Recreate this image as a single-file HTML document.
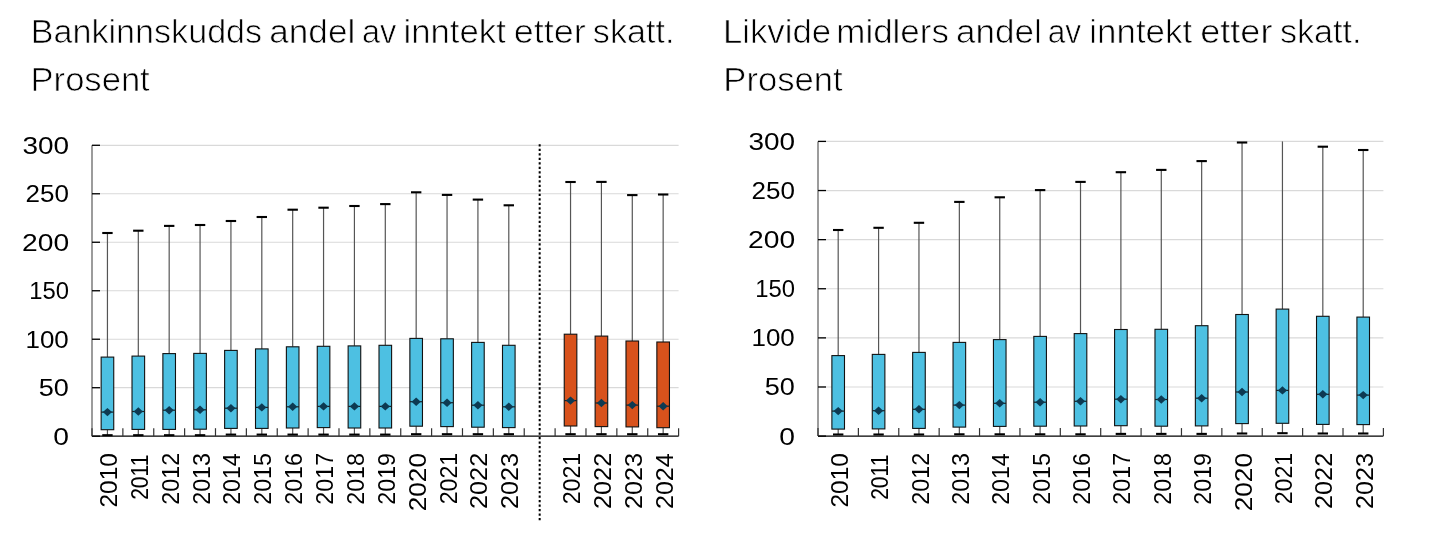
<!DOCTYPE html>
<html><head><meta charset="utf-8">
<style>
html,body{margin:0;padding:0;background:#fff;}
body{width:1445px;height:540px;overflow:hidden;position:relative;}
svg{position:absolute;left:0;top:0;will-change:transform;}
.t{font-family:"Liberation Sans", sans-serif;font-size:24.5px;fill:#000;}
.tt{font-family:"Liberation Sans", sans-serif;font-size:33.0px;fill:#000;stroke:#fff;stroke-width:0.7px;}
</style></head><body>
<svg width="1445" height="540" viewBox="0 0 1445 540">
<text transform="translate(30.7 42.8) scale(1.0345 1)" class="tt">Bankinnskudds</text>
<text transform="translate(269.31 42.8) scale(1.0644 1)" class="tt">andel</text>
<text transform="translate(361.92 42.8) scale(0.9869 1)" class="tt">av</text>
<text transform="translate(403.48 42.8) scale(1.0530 1)" class="tt">inntekt</text>
<text transform="translate(513.77 42.8) scale(1.0892 1)" class="tt">etter</text>
<text transform="translate(592.85 42.8) scale(1.0343 1)" class="tt">skatt.</text>
<text transform="translate(722.95 42.8) scale(1.0523 1)" class="tt">Likvide</text>
<text transform="translate(836.28 42.8) scale(1.0596 1)" class="tt">midlers</text>
<text transform="translate(955.91 42.8) scale(1.0631 1)" class="tt">andel</text>
<text transform="translate(1047.75 42.8) scale(0.9599 1)" class="tt">av</text>
<text transform="translate(1089.37 42.8) scale(1.0572 1)" class="tt">inntekt</text>
<text transform="translate(1200.27 42.8) scale(1.0923 1)" class="tt">etter</text>
<text transform="translate(1279.95 42.8) scale(1.0357 1)" class="tt">skatt.</text>
<text transform="translate(30.56 90.8) scale(1.0480 1)" class="tt">Prosent</text>
<text transform="translate(723.36 90.8) scale(1.0480 1)" class="tt">Prosent</text>
<line x1="92" y1="387.71" x2="678.6" y2="387.71" stroke="#d9d9d9" stroke-width="1.2"/>
<line x1="92" y1="339.23" x2="678.6" y2="339.23" stroke="#d9d9d9" stroke-width="1.2"/>
<line x1="92" y1="290.75" x2="678.6" y2="290.75" stroke="#d9d9d9" stroke-width="1.2"/>
<line x1="92" y1="242.26" x2="678.6" y2="242.26" stroke="#d9d9d9" stroke-width="1.2"/>
<line x1="92" y1="193.77" x2="678.6" y2="193.77" stroke="#d9d9d9" stroke-width="1.2"/>
<line x1="92" y1="145.29" x2="678.6" y2="145.29" stroke="#d9d9d9" stroke-width="1.2"/>
<line x1="107.44" y1="233" x2="107.44" y2="357.1" stroke="#555" stroke-width="1.2"/>
<line x1="107.44" y1="429.7" x2="107.44" y2="435.2" stroke="#555" stroke-width="1.2"/>
<line x1="102.24" y1="233" x2="112.64" y2="233" stroke="#000" stroke-width="2.1"/>
<line x1="102.24" y1="435.2" x2="112.64" y2="435.2" stroke="#000" stroke-width="2.1"/>
<rect x="101.14" y="357.1" width="12.6" height="72.6" fill="#4dc0e2" stroke="#111" stroke-width="1.1"/>
<line x1="101.14" y1="412.1" x2="113.74" y2="412.1" stroke="#1b2226" stroke-width="1.2"/>
<path d="M107.44 407.9 L112.04 412.1 L107.44 416.3 L102.84 412.1 Z" fill="#0d3a52"/>
<line x1="138.31" y1="230.7" x2="138.31" y2="356.1" stroke="#555" stroke-width="1.2"/>
<line x1="138.31" y1="429.4" x2="138.31" y2="435.2" stroke="#555" stroke-width="1.2"/>
<line x1="133.11" y1="230.7" x2="143.51" y2="230.7" stroke="#000" stroke-width="2.1"/>
<line x1="133.11" y1="435.2" x2="143.51" y2="435.2" stroke="#000" stroke-width="2.1"/>
<rect x="132.01" y="356.1" width="12.6" height="73.3" fill="#4dc0e2" stroke="#111" stroke-width="1.1"/>
<line x1="132.01" y1="411.5" x2="144.61" y2="411.5" stroke="#1b2226" stroke-width="1.2"/>
<path d="M138.31 407.3 L142.91 411.5 L138.31 415.7 L133.71 411.5 Z" fill="#0d3a52"/>
<line x1="169.18" y1="225.9" x2="169.18" y2="353.6" stroke="#555" stroke-width="1.2"/>
<line x1="169.18" y1="429.4" x2="169.18" y2="435.2" stroke="#555" stroke-width="1.2"/>
<line x1="163.98" y1="225.9" x2="174.38" y2="225.9" stroke="#000" stroke-width="2.1"/>
<line x1="163.98" y1="435.2" x2="174.38" y2="435.2" stroke="#000" stroke-width="2.1"/>
<rect x="162.88" y="353.6" width="12.6" height="75.8" fill="#4dc0e2" stroke="#111" stroke-width="1.1"/>
<line x1="162.88" y1="410.2" x2="175.48" y2="410.2" stroke="#1b2226" stroke-width="1.2"/>
<path d="M169.18 406 L173.78 410.2 L169.18 414.4 L164.58 410.2 Z" fill="#0d3a52"/>
<line x1="200.06" y1="225" x2="200.06" y2="353.4" stroke="#555" stroke-width="1.2"/>
<line x1="200.06" y1="429.2" x2="200.06" y2="435.2" stroke="#555" stroke-width="1.2"/>
<line x1="194.86" y1="225" x2="205.26" y2="225" stroke="#000" stroke-width="2.1"/>
<line x1="194.86" y1="435.2" x2="205.26" y2="435.2" stroke="#000" stroke-width="2.1"/>
<rect x="193.76" y="353.4" width="12.6" height="75.8" fill="#4dc0e2" stroke="#111" stroke-width="1.1"/>
<line x1="193.76" y1="409.8" x2="206.36" y2="409.8" stroke="#1b2226" stroke-width="1.2"/>
<path d="M200.06 405.6 L204.66 409.8 L200.06 414 L195.46 409.8 Z" fill="#0d3a52"/>
<line x1="230.93" y1="221" x2="230.93" y2="350.4" stroke="#555" stroke-width="1.2"/>
<line x1="230.93" y1="428.4" x2="230.93" y2="434.6" stroke="#555" stroke-width="1.2"/>
<line x1="225.73" y1="221" x2="236.13" y2="221" stroke="#000" stroke-width="2.1"/>
<line x1="225.73" y1="434.6" x2="236.13" y2="434.6" stroke="#000" stroke-width="2.1"/>
<rect x="224.63" y="350.4" width="12.6" height="78" fill="#4dc0e2" stroke="#111" stroke-width="1.1"/>
<line x1="224.63" y1="408.2" x2="237.23" y2="408.2" stroke="#1b2226" stroke-width="1.2"/>
<path d="M230.93 404 L235.53 408.2 L230.93 412.4 L226.33 408.2 Z" fill="#0d3a52"/>
<line x1="261.81" y1="217" x2="261.81" y2="348.9" stroke="#555" stroke-width="1.2"/>
<line x1="261.81" y1="428.4" x2="261.81" y2="434.6" stroke="#555" stroke-width="1.2"/>
<line x1="256.61" y1="217" x2="267.01" y2="217" stroke="#000" stroke-width="2.1"/>
<line x1="256.61" y1="434.6" x2="267.01" y2="434.6" stroke="#000" stroke-width="2.1"/>
<rect x="255.51" y="348.9" width="12.6" height="79.5" fill="#4dc0e2" stroke="#111" stroke-width="1.1"/>
<line x1="255.51" y1="407.4" x2="268.11" y2="407.4" stroke="#1b2226" stroke-width="1.2"/>
<path d="M261.81 403.2 L266.41 407.4 L261.81 411.6 L257.21 407.4 Z" fill="#0d3a52"/>
<line x1="292.68" y1="209.7" x2="292.68" y2="346.8" stroke="#555" stroke-width="1.2"/>
<line x1="292.68" y1="428" x2="292.68" y2="434.6" stroke="#555" stroke-width="1.2"/>
<line x1="287.48" y1="209.7" x2="297.88" y2="209.7" stroke="#000" stroke-width="2.1"/>
<line x1="287.48" y1="434.6" x2="297.88" y2="434.6" stroke="#000" stroke-width="2.1"/>
<rect x="286.38" y="346.8" width="12.6" height="81.2" fill="#4dc0e2" stroke="#111" stroke-width="1.1"/>
<line x1="286.38" y1="406.8" x2="298.98" y2="406.8" stroke="#1b2226" stroke-width="1.2"/>
<path d="M292.68 402.6 L297.28 406.8 L292.68 411 L288.08 406.8 Z" fill="#0d3a52"/>
<line x1="323.55" y1="207.7" x2="323.55" y2="346.3" stroke="#555" stroke-width="1.2"/>
<line x1="323.55" y1="427.6" x2="323.55" y2="434.6" stroke="#555" stroke-width="1.2"/>
<line x1="318.35" y1="207.7" x2="328.75" y2="207.7" stroke="#000" stroke-width="2.1"/>
<line x1="318.35" y1="434.6" x2="328.75" y2="434.6" stroke="#000" stroke-width="2.1"/>
<rect x="317.25" y="346.3" width="12.6" height="81.3" fill="#4dc0e2" stroke="#111" stroke-width="1.1"/>
<line x1="317.25" y1="406.4" x2="329.85" y2="406.4" stroke="#1b2226" stroke-width="1.2"/>
<path d="M323.55 402.2 L328.15 406.4 L323.55 410.6 L318.95 406.4 Z" fill="#0d3a52"/>
<line x1="354.43" y1="206" x2="354.43" y2="345.9" stroke="#555" stroke-width="1.2"/>
<line x1="354.43" y1="428" x2="354.43" y2="434.6" stroke="#555" stroke-width="1.2"/>
<line x1="349.23" y1="206" x2="359.63" y2="206" stroke="#000" stroke-width="2.1"/>
<line x1="349.23" y1="434.6" x2="359.63" y2="434.6" stroke="#000" stroke-width="2.1"/>
<rect x="348.13" y="345.9" width="12.6" height="82.1" fill="#4dc0e2" stroke="#111" stroke-width="1.1"/>
<line x1="348.13" y1="406.4" x2="360.73" y2="406.4" stroke="#1b2226" stroke-width="1.2"/>
<path d="M354.43 402.2 L359.03 406.4 L354.43 410.6 L349.83 406.4 Z" fill="#0d3a52"/>
<line x1="385.3" y1="204.1" x2="385.3" y2="345.3" stroke="#555" stroke-width="1.2"/>
<line x1="385.3" y1="428" x2="385.3" y2="434.6" stroke="#555" stroke-width="1.2"/>
<line x1="380.1" y1="204.1" x2="390.5" y2="204.1" stroke="#000" stroke-width="2.1"/>
<line x1="380.1" y1="434.6" x2="390.5" y2="434.6" stroke="#000" stroke-width="2.1"/>
<rect x="379" y="345.3" width="12.6" height="82.7" fill="#4dc0e2" stroke="#111" stroke-width="1.1"/>
<line x1="379" y1="406.4" x2="391.6" y2="406.4" stroke="#1b2226" stroke-width="1.2"/>
<path d="M385.3 402.2 L389.9 406.4 L385.3 410.6 L380.7 406.4 Z" fill="#0d3a52"/>
<line x1="416.17" y1="192.3" x2="416.17" y2="338.4" stroke="#555" stroke-width="1.2"/>
<line x1="416.17" y1="426.2" x2="416.17" y2="434.2" stroke="#555" stroke-width="1.2"/>
<line x1="410.97" y1="192.3" x2="421.37" y2="192.3" stroke="#000" stroke-width="2.1"/>
<line x1="410.97" y1="434.2" x2="421.37" y2="434.2" stroke="#000" stroke-width="2.1"/>
<rect x="409.87" y="338.4" width="12.6" height="87.8" fill="#4dc0e2" stroke="#111" stroke-width="1.1"/>
<line x1="409.87" y1="401.7" x2="422.47" y2="401.7" stroke="#1b2226" stroke-width="1.2"/>
<path d="M416.17 397.5 L420.77 401.7 L416.17 405.9 L411.57 401.7 Z" fill="#0d3a52"/>
<line x1="447.05" y1="194.9" x2="447.05" y2="338.8" stroke="#555" stroke-width="1.2"/>
<line x1="447.05" y1="426.6" x2="447.05" y2="434.2" stroke="#555" stroke-width="1.2"/>
<line x1="441.85" y1="194.9" x2="452.25" y2="194.9" stroke="#000" stroke-width="2.1"/>
<line x1="441.85" y1="434.2" x2="452.25" y2="434.2" stroke="#000" stroke-width="2.1"/>
<rect x="440.75" y="338.8" width="12.6" height="87.8" fill="#4dc0e2" stroke="#111" stroke-width="1.1"/>
<line x1="440.75" y1="402.7" x2="453.35" y2="402.7" stroke="#1b2226" stroke-width="1.2"/>
<path d="M447.05 398.5 L451.65 402.7 L447.05 406.9 L442.45 402.7 Z" fill="#0d3a52"/>
<line x1="477.92" y1="199.6" x2="477.92" y2="342.4" stroke="#555" stroke-width="1.2"/>
<line x1="477.92" y1="427.2" x2="477.92" y2="434.2" stroke="#555" stroke-width="1.2"/>
<line x1="472.72" y1="199.6" x2="483.12" y2="199.6" stroke="#000" stroke-width="2.1"/>
<line x1="472.72" y1="434.2" x2="483.12" y2="434.2" stroke="#000" stroke-width="2.1"/>
<rect x="471.62" y="342.4" width="12.6" height="84.8" fill="#4dc0e2" stroke="#111" stroke-width="1.1"/>
<line x1="471.62" y1="405.2" x2="484.22" y2="405.2" stroke="#1b2226" stroke-width="1.2"/>
<path d="M477.92 401 L482.52 405.2 L477.92 409.4 L473.32 405.2 Z" fill="#0d3a52"/>
<line x1="508.79" y1="205.3" x2="508.79" y2="345.3" stroke="#555" stroke-width="1.2"/>
<line x1="508.79" y1="427.6" x2="508.79" y2="434.2" stroke="#555" stroke-width="1.2"/>
<line x1="503.59" y1="205.3" x2="513.99" y2="205.3" stroke="#000" stroke-width="2.1"/>
<line x1="503.59" y1="434.2" x2="513.99" y2="434.2" stroke="#000" stroke-width="2.1"/>
<rect x="502.49" y="345.3" width="12.6" height="82.3" fill="#4dc0e2" stroke="#111" stroke-width="1.1"/>
<line x1="502.49" y1="406.8" x2="515.09" y2="406.8" stroke="#1b2226" stroke-width="1.2"/>
<path d="M508.79 402.6 L513.39 406.8 L508.79 411 L504.19 406.8 Z" fill="#0d3a52"/>
<line x1="570.54" y1="182" x2="570.54" y2="334.2" stroke="#555" stroke-width="1.2"/>
<line x1="570.54" y1="426" x2="570.54" y2="434.2" stroke="#555" stroke-width="1.2"/>
<line x1="565.34" y1="182" x2="575.74" y2="182" stroke="#000" stroke-width="2.1"/>
<line x1="565.34" y1="434.2" x2="575.74" y2="434.2" stroke="#000" stroke-width="2.1"/>
<rect x="564.24" y="334.2" width="12.6" height="91.8" fill="#d8521c" stroke="#111" stroke-width="1.1"/>
<line x1="564.24" y1="400.6" x2="576.84" y2="400.6" stroke="#1b2226" stroke-width="1.2"/>
<path d="M570.54 396.4 L575.14 400.6 L570.54 404.8 L565.94 400.6 Z" fill="#0d3a52"/>
<line x1="601.42" y1="181.9" x2="601.42" y2="336.1" stroke="#555" stroke-width="1.2"/>
<line x1="601.42" y1="426.6" x2="601.42" y2="434.2" stroke="#555" stroke-width="1.2"/>
<line x1="596.22" y1="181.9" x2="606.62" y2="181.9" stroke="#000" stroke-width="2.1"/>
<line x1="596.22" y1="434.2" x2="606.62" y2="434.2" stroke="#000" stroke-width="2.1"/>
<rect x="595.12" y="336.1" width="12.6" height="90.5" fill="#d8521c" stroke="#111" stroke-width="1.1"/>
<line x1="595.12" y1="403" x2="607.72" y2="403" stroke="#1b2226" stroke-width="1.2"/>
<path d="M601.42 398.8 L606.02 403 L601.42 407.2 L596.82 403 Z" fill="#0d3a52"/>
<line x1="632.29" y1="195.1" x2="632.29" y2="341" stroke="#555" stroke-width="1.2"/>
<line x1="632.29" y1="426.9" x2="632.29" y2="434.2" stroke="#555" stroke-width="1.2"/>
<line x1="627.09" y1="195.1" x2="637.49" y2="195.1" stroke="#000" stroke-width="2.1"/>
<line x1="627.09" y1="434.2" x2="637.49" y2="434.2" stroke="#000" stroke-width="2.1"/>
<rect x="625.99" y="341" width="12.6" height="85.9" fill="#d8521c" stroke="#111" stroke-width="1.1"/>
<line x1="625.99" y1="405.1" x2="638.59" y2="405.1" stroke="#1b2226" stroke-width="1.2"/>
<path d="M632.29 400.9 L636.89 405.1 L632.29 409.3 L627.69 405.1 Z" fill="#0d3a52"/>
<line x1="663.16" y1="194.5" x2="663.16" y2="342" stroke="#555" stroke-width="1.2"/>
<line x1="663.16" y1="427.7" x2="663.16" y2="434.2" stroke="#555" stroke-width="1.2"/>
<line x1="657.96" y1="194.5" x2="668.36" y2="194.5" stroke="#000" stroke-width="2.1"/>
<line x1="657.96" y1="434.2" x2="668.36" y2="434.2" stroke="#000" stroke-width="2.1"/>
<rect x="656.86" y="342" width="12.6" height="85.7" fill="#d8521c" stroke="#111" stroke-width="1.1"/>
<line x1="656.86" y1="406.2" x2="669.46" y2="406.2" stroke="#1b2226" stroke-width="1.2"/>
<path d="M663.16 402 L667.76 406.2 L663.16 410.4 L658.56 406.2 Z" fill="#0d3a52"/>
<line x1="539.67" y1="144.14" x2="539.67" y2="520.5" stroke="#000" stroke-width="2" stroke-dasharray="2.3 2.204"/>
<line x1="92" y1="145.29" x2="92" y2="436.2" stroke="#5a5a5a" stroke-width="1.2"/>
<line x1="92" y1="436.2" x2="100" y2="436.2" stroke="#000" stroke-width="1.3"/>
<line x1="92" y1="387.71" x2="100" y2="387.71" stroke="#000" stroke-width="1.3"/>
<line x1="92" y1="339.23" x2="100" y2="339.23" stroke="#000" stroke-width="1.3"/>
<line x1="92" y1="290.75" x2="100" y2="290.75" stroke="#000" stroke-width="1.3"/>
<line x1="92" y1="242.26" x2="100" y2="242.26" stroke="#000" stroke-width="1.3"/>
<line x1="92" y1="193.77" x2="100" y2="193.77" stroke="#000" stroke-width="1.3"/>
<line x1="92" y1="145.29" x2="100" y2="145.29" stroke="#000" stroke-width="1.3"/>
<line x1="92" y1="436.2" x2="678.6" y2="436.2" stroke="#000" stroke-width="1.3"/>
<line x1="92" y1="428.2" x2="92" y2="436.2" stroke="#333" stroke-width="1.2"/>
<line x1="122.87" y1="428.2" x2="122.87" y2="436.2" stroke="#333" stroke-width="1.2"/>
<line x1="153.75" y1="428.2" x2="153.75" y2="436.2" stroke="#333" stroke-width="1.2"/>
<line x1="184.62" y1="428.2" x2="184.62" y2="436.2" stroke="#333" stroke-width="1.2"/>
<line x1="215.49" y1="428.2" x2="215.49" y2="436.2" stroke="#333" stroke-width="1.2"/>
<line x1="246.37" y1="428.2" x2="246.37" y2="436.2" stroke="#333" stroke-width="1.2"/>
<line x1="277.24" y1="428.2" x2="277.24" y2="436.2" stroke="#333" stroke-width="1.2"/>
<line x1="308.12" y1="428.2" x2="308.12" y2="436.2" stroke="#333" stroke-width="1.2"/>
<line x1="338.99" y1="428.2" x2="338.99" y2="436.2" stroke="#333" stroke-width="1.2"/>
<line x1="369.86" y1="428.2" x2="369.86" y2="436.2" stroke="#333" stroke-width="1.2"/>
<line x1="400.74" y1="428.2" x2="400.74" y2="436.2" stroke="#333" stroke-width="1.2"/>
<line x1="431.61" y1="428.2" x2="431.61" y2="436.2" stroke="#333" stroke-width="1.2"/>
<line x1="462.48" y1="428.2" x2="462.48" y2="436.2" stroke="#333" stroke-width="1.2"/>
<line x1="493.36" y1="428.2" x2="493.36" y2="436.2" stroke="#333" stroke-width="1.2"/>
<line x1="524.23" y1="428.2" x2="524.23" y2="436.2" stroke="#333" stroke-width="1.2"/>
<line x1="555.11" y1="428.2" x2="555.11" y2="436.2" stroke="#333" stroke-width="1.2"/>
<line x1="585.98" y1="428.2" x2="585.98" y2="436.2" stroke="#333" stroke-width="1.2"/>
<line x1="616.85" y1="428.2" x2="616.85" y2="436.2" stroke="#333" stroke-width="1.2"/>
<line x1="647.73" y1="428.2" x2="647.73" y2="436.2" stroke="#333" stroke-width="1.2"/>
<line x1="678.6" y1="428.2" x2="678.6" y2="436.2" stroke="#333" stroke-width="1.2"/>
<text transform="translate(53.2 444.63) scale(1.1527 1)" class="t">0</text>
<text transform="translate(38.71 396.15) scale(1.1061 1)" class="t">50</text>
<text transform="translate(25.52 347.66) scale(1.0590 1)" class="t">100</text>
<text transform="translate(29.19 299.18) scale(0.9723 1)" class="t">150</text>
<text transform="translate(21.98 250.69) scale(1.1528 1)" class="t">200</text>
<text transform="translate(25.59 202.21) scale(1.0623 1)" class="t">250</text>
<text transform="translate(22.43 153.72) scale(1.1414 1)" class="t">300</text>
<text transform="translate(116.97 507.53) rotate(-90) scale(0.9997 1)" class="t">2010</text>
<text transform="translate(147.84 499.86) rotate(-90) scale(0.8603 1)" class="t">2011</text>
<text transform="translate(178.72 504.77) rotate(-90) scale(0.9531 1)" class="t">2012</text>
<text transform="translate(209.59 504.77) rotate(-90) scale(0.9503 1)" class="t">2013</text>
<text transform="translate(240.47 504.76) rotate(-90) scale(0.9438 1)" class="t">2014</text>
<text transform="translate(271.34 504.77) rotate(-90) scale(0.9494 1)" class="t">2015</text>
<text transform="translate(302.21 504.77) rotate(-90) scale(0.9503 1)" class="t">2016</text>
<text transform="translate(333.09 504.77) rotate(-90) scale(0.9531 1)" class="t">2017</text>
<text transform="translate(363.96 504.77) rotate(-90) scale(0.9501 1)" class="t">2018</text>
<text transform="translate(394.83 504.77) rotate(-90) scale(0.9518 1)" class="t">2019</text>
<text transform="translate(425.71 511.32) rotate(-90) scale(1.0705 1)" class="t">2020</text>
<text transform="translate(456.58 504.36) rotate(-90) scale(0.9448 1)" class="t">2021</text>
<text transform="translate(487.45 509.07) rotate(-90) scale(1.0338 1)" class="t">2022</text>
<text transform="translate(518.33 509.07) rotate(-90) scale(1.0308 1)" class="t">2023</text>
<text transform="translate(580.08 504.36) rotate(-90) scale(0.9448 1)" class="t">2021</text>
<text transform="translate(610.95 509.07) rotate(-90) scale(1.0338 1)" class="t">2022</text>
<text transform="translate(641.82 509.07) rotate(-90) scale(1.0308 1)" class="t">2023</text>
<text transform="translate(672.7 509.06) rotate(-90) scale(1.0237 1)" class="t">2024</text>
<line x1="818" y1="386.99" x2="1383.4" y2="386.99" stroke="#d9d9d9" stroke-width="1.2"/>
<line x1="818" y1="337.87" x2="1383.4" y2="337.87" stroke="#d9d9d9" stroke-width="1.2"/>
<line x1="818" y1="288.75" x2="1383.4" y2="288.75" stroke="#d9d9d9" stroke-width="1.2"/>
<line x1="818" y1="239.64" x2="1383.4" y2="239.64" stroke="#d9d9d9" stroke-width="1.2"/>
<line x1="818" y1="190.53" x2="1383.4" y2="190.53" stroke="#d9d9d9" stroke-width="1.2"/>
<line x1="818" y1="141.41" x2="1383.4" y2="141.41" stroke="#d9d9d9" stroke-width="1.2"/>
<line x1="838.19" y1="230" x2="838.19" y2="355.6" stroke="#555" stroke-width="1.2"/>
<line x1="838.19" y1="429.1" x2="838.19" y2="434.5" stroke="#555" stroke-width="1.2"/>
<line x1="832.99" y1="230" x2="843.39" y2="230" stroke="#000" stroke-width="2.1"/>
<line x1="832.99" y1="434.5" x2="843.39" y2="434.5" stroke="#000" stroke-width="2.1"/>
<rect x="831.89" y="355.6" width="12.6" height="73.5" fill="#4dc0e2" stroke="#111" stroke-width="1.1"/>
<line x1="831.89" y1="411.1" x2="844.49" y2="411.1" stroke="#1b2226" stroke-width="1.2"/>
<path d="M838.19 406.9 L842.79 411.1 L838.19 415.3 L833.59 411.1 Z" fill="#0d3a52"/>
<line x1="878.58" y1="227.8" x2="878.58" y2="354.4" stroke="#555" stroke-width="1.2"/>
<line x1="878.58" y1="428.9" x2="878.58" y2="434.5" stroke="#555" stroke-width="1.2"/>
<line x1="873.38" y1="227.8" x2="883.78" y2="227.8" stroke="#000" stroke-width="2.1"/>
<line x1="873.38" y1="434.5" x2="883.78" y2="434.5" stroke="#000" stroke-width="2.1"/>
<rect x="872.28" y="354.4" width="12.6" height="74.5" fill="#4dc0e2" stroke="#111" stroke-width="1.1"/>
<line x1="872.28" y1="410.7" x2="884.88" y2="410.7" stroke="#1b2226" stroke-width="1.2"/>
<path d="M878.58 406.5 L883.18 410.7 L878.58 414.9 L873.98 410.7 Z" fill="#0d3a52"/>
<line x1="918.96" y1="222.8" x2="918.96" y2="352.4" stroke="#555" stroke-width="1.2"/>
<line x1="918.96" y1="428.4" x2="918.96" y2="434.5" stroke="#555" stroke-width="1.2"/>
<line x1="913.76" y1="222.8" x2="924.16" y2="222.8" stroke="#000" stroke-width="2.1"/>
<line x1="913.76" y1="434.5" x2="924.16" y2="434.5" stroke="#000" stroke-width="2.1"/>
<rect x="912.66" y="352.4" width="12.6" height="76" fill="#4dc0e2" stroke="#111" stroke-width="1.1"/>
<line x1="912.66" y1="409.3" x2="925.26" y2="409.3" stroke="#1b2226" stroke-width="1.2"/>
<path d="M918.96 405.1 L923.56 409.3 L918.96 413.5 L914.36 409.3 Z" fill="#0d3a52"/>
<line x1="959.35" y1="201.9" x2="959.35" y2="342.4" stroke="#555" stroke-width="1.2"/>
<line x1="959.35" y1="427.1" x2="959.35" y2="434.3" stroke="#555" stroke-width="1.2"/>
<line x1="954.15" y1="201.9" x2="964.55" y2="201.9" stroke="#000" stroke-width="2.1"/>
<line x1="954.15" y1="434.3" x2="964.55" y2="434.3" stroke="#000" stroke-width="2.1"/>
<rect x="953.05" y="342.4" width="12.6" height="84.7" fill="#4dc0e2" stroke="#111" stroke-width="1.1"/>
<line x1="953.05" y1="405.1" x2="965.65" y2="405.1" stroke="#1b2226" stroke-width="1.2"/>
<path d="M959.35 400.9 L963.95 405.1 L959.35 409.3 L954.75 405.1 Z" fill="#0d3a52"/>
<line x1="999.74" y1="197.3" x2="999.74" y2="339.6" stroke="#555" stroke-width="1.2"/>
<line x1="999.74" y1="426.4" x2="999.74" y2="434.3" stroke="#555" stroke-width="1.2"/>
<line x1="994.54" y1="197.3" x2="1004.94" y2="197.3" stroke="#000" stroke-width="2.1"/>
<line x1="994.54" y1="434.3" x2="1004.94" y2="434.3" stroke="#000" stroke-width="2.1"/>
<rect x="993.44" y="339.6" width="12.6" height="86.8" fill="#4dc0e2" stroke="#111" stroke-width="1.1"/>
<line x1="993.44" y1="403.3" x2="1006.04" y2="403.3" stroke="#1b2226" stroke-width="1.2"/>
<path d="M999.74 399.1 L1004.34 403.3 L999.74 407.5 L995.14 403.3 Z" fill="#0d3a52"/>
<line x1="1040.12" y1="190.1" x2="1040.12" y2="336.4" stroke="#555" stroke-width="1.2"/>
<line x1="1040.12" y1="426.2" x2="1040.12" y2="434.3" stroke="#555" stroke-width="1.2"/>
<line x1="1034.92" y1="190.1" x2="1045.32" y2="190.1" stroke="#000" stroke-width="2.1"/>
<line x1="1034.92" y1="434.3" x2="1045.32" y2="434.3" stroke="#000" stroke-width="2.1"/>
<rect x="1033.82" y="336.4" width="12.6" height="89.8" fill="#4dc0e2" stroke="#111" stroke-width="1.1"/>
<line x1="1033.82" y1="402.2" x2="1046.42" y2="402.2" stroke="#1b2226" stroke-width="1.2"/>
<path d="M1040.12 398 L1044.72 402.2 L1040.12 406.4 L1035.52 402.2 Z" fill="#0d3a52"/>
<line x1="1080.51" y1="181.9" x2="1080.51" y2="333.6" stroke="#555" stroke-width="1.2"/>
<line x1="1080.51" y1="426" x2="1080.51" y2="434.3" stroke="#555" stroke-width="1.2"/>
<line x1="1075.31" y1="181.9" x2="1085.71" y2="181.9" stroke="#000" stroke-width="2.1"/>
<line x1="1075.31" y1="434.3" x2="1085.71" y2="434.3" stroke="#000" stroke-width="2.1"/>
<rect x="1074.21" y="333.6" width="12.6" height="92.4" fill="#4dc0e2" stroke="#111" stroke-width="1.1"/>
<line x1="1074.21" y1="401.3" x2="1086.81" y2="401.3" stroke="#1b2226" stroke-width="1.2"/>
<path d="M1080.51 397.1 L1085.11 401.3 L1080.51 405.5 L1075.91 401.3 Z" fill="#0d3a52"/>
<line x1="1120.89" y1="172.2" x2="1120.89" y2="329.5" stroke="#555" stroke-width="1.2"/>
<line x1="1120.89" y1="425.7" x2="1120.89" y2="433.9" stroke="#555" stroke-width="1.2"/>
<line x1="1115.69" y1="172.2" x2="1126.09" y2="172.2" stroke="#000" stroke-width="2.1"/>
<line x1="1115.69" y1="433.9" x2="1126.09" y2="433.9" stroke="#000" stroke-width="2.1"/>
<rect x="1114.59" y="329.5" width="12.6" height="96.2" fill="#4dc0e2" stroke="#111" stroke-width="1.1"/>
<line x1="1114.59" y1="399.2" x2="1127.19" y2="399.2" stroke="#1b2226" stroke-width="1.2"/>
<path d="M1120.89 395 L1125.49 399.2 L1120.89 403.4 L1116.29 399.2 Z" fill="#0d3a52"/>
<line x1="1161.28" y1="169.9" x2="1161.28" y2="329.3" stroke="#555" stroke-width="1.2"/>
<line x1="1161.28" y1="426.2" x2="1161.28" y2="433.9" stroke="#555" stroke-width="1.2"/>
<line x1="1156.08" y1="169.9" x2="1166.48" y2="169.9" stroke="#000" stroke-width="2.1"/>
<line x1="1156.08" y1="433.9" x2="1166.48" y2="433.9" stroke="#000" stroke-width="2.1"/>
<rect x="1154.98" y="329.3" width="12.6" height="96.9" fill="#4dc0e2" stroke="#111" stroke-width="1.1"/>
<line x1="1154.98" y1="399.5" x2="1167.58" y2="399.5" stroke="#1b2226" stroke-width="1.2"/>
<path d="M1161.28 395.3 L1165.88 399.5 L1161.28 403.7 L1156.68 399.5 Z" fill="#0d3a52"/>
<line x1="1201.66" y1="161.1" x2="1201.66" y2="325.7" stroke="#555" stroke-width="1.2"/>
<line x1="1201.66" y1="425.9" x2="1201.66" y2="433.9" stroke="#555" stroke-width="1.2"/>
<line x1="1196.46" y1="161.1" x2="1206.86" y2="161.1" stroke="#000" stroke-width="2.1"/>
<line x1="1196.46" y1="433.9" x2="1206.86" y2="433.9" stroke="#000" stroke-width="2.1"/>
<rect x="1195.36" y="325.7" width="12.6" height="100.2" fill="#4dc0e2" stroke="#111" stroke-width="1.1"/>
<line x1="1195.36" y1="398.2" x2="1207.96" y2="398.2" stroke="#1b2226" stroke-width="1.2"/>
<path d="M1201.66 394 L1206.26 398.2 L1201.66 402.4 L1197.06 398.2 Z" fill="#0d3a52"/>
<line x1="1242.05" y1="142.5" x2="1242.05" y2="314.5" stroke="#555" stroke-width="1.2"/>
<line x1="1242.05" y1="423.6" x2="1242.05" y2="433.5" stroke="#555" stroke-width="1.2"/>
<line x1="1236.85" y1="142.5" x2="1247.25" y2="142.5" stroke="#000" stroke-width="2.1"/>
<line x1="1236.85" y1="433.5" x2="1247.25" y2="433.5" stroke="#000" stroke-width="2.1"/>
<rect x="1235.75" y="314.5" width="12.6" height="109.1" fill="#4dc0e2" stroke="#111" stroke-width="1.1"/>
<line x1="1235.75" y1="392" x2="1248.35" y2="392" stroke="#1b2226" stroke-width="1.2"/>
<path d="M1242.05 387.8 L1246.65 392 L1242.05 396.2 L1237.45 392 Z" fill="#0d3a52"/>
<line x1="1282.44" y1="141.41" x2="1282.44" y2="309.1" stroke="#555" stroke-width="1.2"/>
<line x1="1282.44" y1="423.3" x2="1282.44" y2="433.2" stroke="#555" stroke-width="1.2"/>
<line x1="1277.24" y1="433.2" x2="1287.64" y2="433.2" stroke="#000" stroke-width="2.1"/>
<rect x="1276.14" y="309.1" width="12.6" height="114.2" fill="#4dc0e2" stroke="#111" stroke-width="1.1"/>
<line x1="1276.14" y1="390.4" x2="1288.74" y2="390.4" stroke="#1b2226" stroke-width="1.2"/>
<path d="M1282.44 386.2 L1287.04 390.4 L1282.44 394.6 L1277.84 390.4 Z" fill="#0d3a52"/>
<line x1="1322.82" y1="146.7" x2="1322.82" y2="316.3" stroke="#555" stroke-width="1.2"/>
<line x1="1322.82" y1="424.4" x2="1322.82" y2="433.5" stroke="#555" stroke-width="1.2"/>
<line x1="1317.62" y1="146.7" x2="1328.02" y2="146.7" stroke="#000" stroke-width="2.1"/>
<line x1="1317.62" y1="433.5" x2="1328.02" y2="433.5" stroke="#000" stroke-width="2.1"/>
<rect x="1316.52" y="316.3" width="12.6" height="108.1" fill="#4dc0e2" stroke="#111" stroke-width="1.1"/>
<line x1="1316.52" y1="394.3" x2="1329.12" y2="394.3" stroke="#1b2226" stroke-width="1.2"/>
<path d="M1322.82 390.1 L1327.42 394.3 L1322.82 398.5 L1318.22 394.3 Z" fill="#0d3a52"/>
<line x1="1363.21" y1="150" x2="1363.21" y2="317.1" stroke="#555" stroke-width="1.2"/>
<line x1="1363.21" y1="424.6" x2="1363.21" y2="433.5" stroke="#555" stroke-width="1.2"/>
<line x1="1358.01" y1="150" x2="1368.41" y2="150" stroke="#000" stroke-width="2.1"/>
<line x1="1358.01" y1="433.5" x2="1368.41" y2="433.5" stroke="#000" stroke-width="2.1"/>
<rect x="1356.91" y="317.1" width="12.6" height="107.5" fill="#4dc0e2" stroke="#111" stroke-width="1.1"/>
<line x1="1356.91" y1="395.1" x2="1369.51" y2="395.1" stroke="#1b2226" stroke-width="1.2"/>
<path d="M1363.21 390.9 L1367.81 395.1 L1363.21 399.3 L1358.61 395.1 Z" fill="#0d3a52"/>
<line x1="818" y1="141.41" x2="818" y2="436.1" stroke="#5a5a5a" stroke-width="1.2"/>
<line x1="818" y1="436.1" x2="826" y2="436.1" stroke="#000" stroke-width="1.3"/>
<line x1="818" y1="386.99" x2="826" y2="386.99" stroke="#000" stroke-width="1.3"/>
<line x1="818" y1="337.87" x2="826" y2="337.87" stroke="#000" stroke-width="1.3"/>
<line x1="818" y1="288.75" x2="826" y2="288.75" stroke="#000" stroke-width="1.3"/>
<line x1="818" y1="239.64" x2="826" y2="239.64" stroke="#000" stroke-width="1.3"/>
<line x1="818" y1="190.53" x2="826" y2="190.53" stroke="#000" stroke-width="1.3"/>
<line x1="818" y1="141.41" x2="826" y2="141.41" stroke="#000" stroke-width="1.3"/>
<line x1="818" y1="436.1" x2="1383.4" y2="436.1" stroke="#000" stroke-width="1.3"/>
<line x1="818" y1="428.1" x2="818" y2="436.1" stroke="#333" stroke-width="1.2"/>
<line x1="858.39" y1="428.1" x2="858.39" y2="436.1" stroke="#333" stroke-width="1.2"/>
<line x1="898.77" y1="428.1" x2="898.77" y2="436.1" stroke="#333" stroke-width="1.2"/>
<line x1="939.16" y1="428.1" x2="939.16" y2="436.1" stroke="#333" stroke-width="1.2"/>
<line x1="979.54" y1="428.1" x2="979.54" y2="436.1" stroke="#333" stroke-width="1.2"/>
<line x1="1019.93" y1="428.1" x2="1019.93" y2="436.1" stroke="#333" stroke-width="1.2"/>
<line x1="1060.31" y1="428.1" x2="1060.31" y2="436.1" stroke="#333" stroke-width="1.2"/>
<line x1="1100.7" y1="428.1" x2="1100.7" y2="436.1" stroke="#333" stroke-width="1.2"/>
<line x1="1141.09" y1="428.1" x2="1141.09" y2="436.1" stroke="#333" stroke-width="1.2"/>
<line x1="1181.47" y1="428.1" x2="1181.47" y2="436.1" stroke="#333" stroke-width="1.2"/>
<line x1="1221.86" y1="428.1" x2="1221.86" y2="436.1" stroke="#333" stroke-width="1.2"/>
<line x1="1262.24" y1="428.1" x2="1262.24" y2="436.1" stroke="#333" stroke-width="1.2"/>
<line x1="1302.63" y1="428.1" x2="1302.63" y2="436.1" stroke="#333" stroke-width="1.2"/>
<line x1="1343.01" y1="428.1" x2="1343.01" y2="436.1" stroke="#333" stroke-width="1.2"/>
<line x1="1383.4" y1="428.1" x2="1383.4" y2="436.1" stroke="#333" stroke-width="1.2"/>
<text transform="translate(779.2 444.53) scale(1.1527 1)" class="t">0</text>
<text transform="translate(764.71 395.42) scale(1.1061 1)" class="t">50</text>
<text transform="translate(751.52 346.3) scale(1.0590 1)" class="t">100</text>
<text transform="translate(755.19 297.19) scale(0.9723 1)" class="t">150</text>
<text transform="translate(747.98 248.07) scale(1.1528 1)" class="t">200</text>
<text transform="translate(751.59 198.96) scale(1.0623 1)" class="t">250</text>
<text transform="translate(748.43 149.84) scale(1.1414 1)" class="t">300</text>
<text transform="translate(847.73 507.53) rotate(-90) scale(0.9997 1)" class="t">2010</text>
<text transform="translate(888.11 499.86) rotate(-90) scale(0.8603 1)" class="t">2011</text>
<text transform="translate(928.5 504.77) rotate(-90) scale(0.9531 1)" class="t">2012</text>
<text transform="translate(968.88 504.77) rotate(-90) scale(0.9503 1)" class="t">2013</text>
<text transform="translate(1009.27 504.76) rotate(-90) scale(0.9438 1)" class="t">2014</text>
<text transform="translate(1049.66 504.77) rotate(-90) scale(0.9494 1)" class="t">2015</text>
<text transform="translate(1090.04 504.77) rotate(-90) scale(0.9503 1)" class="t">2016</text>
<text transform="translate(1130.43 504.77) rotate(-90) scale(0.9531 1)" class="t">2017</text>
<text transform="translate(1170.81 504.77) rotate(-90) scale(0.9501 1)" class="t">2018</text>
<text transform="translate(1211.2 504.77) rotate(-90) scale(0.9518 1)" class="t">2019</text>
<text transform="translate(1251.58 511.32) rotate(-90) scale(1.0705 1)" class="t">2020</text>
<text transform="translate(1291.97 504.36) rotate(-90) scale(0.9448 1)" class="t">2021</text>
<text transform="translate(1332.36 509.07) rotate(-90) scale(1.0338 1)" class="t">2022</text>
<text transform="translate(1372.74 509.07) rotate(-90) scale(1.0308 1)" class="t">2023</text>
</svg>
</body></html>
